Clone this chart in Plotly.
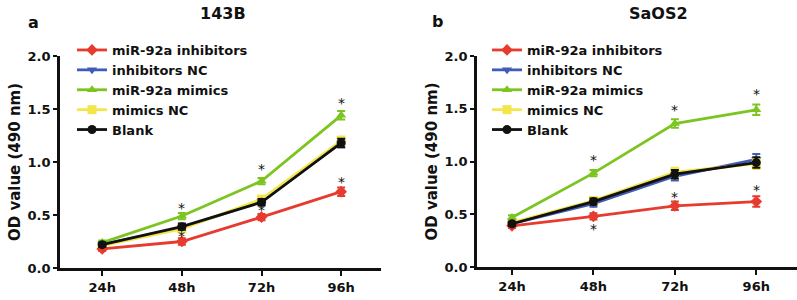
import plotly.graph_objects as go

times = ["24h", "48h", "72h", "96h"]
series_names = ["miR-92a inhibitors", "inhibitors NC", "miR-92a mimics", "mimics NC", "Blank"]
colors = ["#E63B2E", "#3F5DB8", "#7CC41F", "#F3E64A", "#111111"]
symbols = ["diamond", "triangle-down", "triangle-up", "square", "circle"]

# 143B panel
v143_inhib = [0.18, 0.25, 0.48, 0.72]
v143_inhNC = [0.22, 0.38, 0.63, 1.18]
v143_mimic = [0.24, 0.49, 0.82, 1.44]
v143_mimNC = [0.21, 0.37, 0.65, 1.20]
v143_blank = [0.22, 0.39, 0.62, 1.18]
e143 = [0.02, 0.03, 0.03, 0.04]

# SaOS2 panel
vsa_inhib = [0.39, 0.48, 0.58, 0.62]
vsa_inhNC = [0.41, 0.60, 0.86, 1.02]
vsa_mimic = [0.47, 0.89, 1.36, 1.49]
vsa_mimNC = [0.42, 0.63, 0.90, 0.98]
vsa_blank = [0.41, 0.62, 0.88, 0.99]
esa = [0.02, 0.03, 0.04, 0.05]

# significance star positions
star143_x = ["48h", "48h", "72h", "72h", "96h", "96h"]
star143_y = [0.57, 0.30, 0.93, 0.55, 1.56, 0.81]
starsa_x = ["48h", "48h", "72h", "72h", "96h", "96h"]
starsa_y = [1.01, 0.36, 1.49, 0.66, 1.64, 0.73]

W, H = 797, 300


def px(x):
    return x / W


def py(y):
    return 1 - y / H


panels = [
    ("x", "y", "legend", [v143_inhib, v143_inhNC, v143_mimic, v143_mimNC, v143_blank], e143),
    ("x2", "y2", "legend2", [vsa_inhib, vsa_inhNC, vsa_mimic, vsa_mimNC, vsa_blank], esa),
]

fig = go.Figure()
draw_order = [1, 3, 0, 2, 4]
for xa, ya, lg, vals, err in panels:
    traces = []
    for i in range(5):
        traces.append(go.Scatter(
            x=times, y=vals[i], name=series_names[i], mode="lines+markers",
            xaxis=xa, yaxis=ya, legend=lg,
            line=dict(color=colors[i], width=2.8),
            marker=dict(symbol=symbols[i], size=9, color=colors[i]),
            error_y=dict(type="data", array=err, color=colors[i], thickness=2, width=4),
            legendrank=i + 1,
        ))
    for i in draw_order:
        fig.add_trace(traces[i])

font_family = "DejaVu Sans, Verdana, sans-serif"
for xv, yv in zip(star143_x, star143_y):
    fig.add_annotation(x=xv, y=yv, xref="x", yref="y", text="*", showarrow=False,
                       xanchor="center", yanchor="middle",
                       font=dict(size=14, color="#111", family=font_family))
for xv, yv in zip(starsa_x, starsa_y):
    fig.add_annotation(x=xv, y=yv, xref="x2", yref="y2", text="*", showarrow=False,
                       xanchor="center", yanchor="middle",
                       font=dict(size=14, color="#111", family=font_family))

axis_common = dict(showline=True, linecolor="#111", linewidth=2.8, showgrid=False,
                   zeroline=False, ticks="outside", tickcolor="#111", tickwidth=2,
                   automargin=False,
                   tickfont=dict(family=font_family, size=13, color="#111", weight="bold"))

ytitle_font = dict(family=font_family, size=15, weight="bold", color="#111")
legend_font = dict(family=font_family, size=13, weight="bold", color="#111")

fig.update_layout(
    width=W, height=H, margin=dict(l=0, r=0, t=0, b=0),
    paper_bgcolor="white", plot_bgcolor="white",
    font=dict(family=font_family, color="#111"),
    xaxis=dict(domain=[px(60), px(381)], anchor="y", type="category",
               range=[-0.53, 3.5], ticklen=5, **axis_common),
    yaxis=dict(domain=[py(268), py(56)], anchor="x", range=[0, 2.0],
               dtick=0.5, tickformat=".1f", ticklen=4,
               title=dict(text="OD value (490 nm)", standoff=4, font=ytitle_font),
               **axis_common),
    xaxis2=dict(domain=[px(477), 1.0], anchor="y2", type="category",
                range=[-0.43, 3.5], ticklen=5, **axis_common),
    yaxis2=dict(domain=[py(267), py(56)], anchor="x2", range=[0, 2.0],
                dtick=0.5, tickformat=".1f", ticklen=4,
                title=dict(text="OD value (490 nm)", standoff=4, font=ytitle_font),
                **axis_common),
    legend=dict(x=px(72), y=py(35), xanchor="left", yanchor="top",
                bgcolor="rgba(0,0,0,0)", itemwidth=30, traceorder="normal",
                font=legend_font),
    legend2=dict(x=px(487), y=py(35), xanchor="left", yanchor="top",
                 bgcolor="rgba(0,0,0,0)", itemwidth=30, traceorder="normal",
                 font=legend_font),
    showlegend=True,
)

title_font = dict(family=font_family, size=16, weight="bold", color="#111")
fig.add_annotation(x=px(223), y=py(13), xref="paper", yref="paper", text="143B",
                   xanchor="center", yanchor="middle", showarrow=False, font=title_font)
fig.add_annotation(x=px(658), y=py(13), xref="paper", yref="paper", text="SaOS2",
                   xanchor="center", yanchor="middle", showarrow=False, font=title_font)
letter_font = dict(family=font_family, size=16, weight="bold", color="#111")
fig.add_annotation(x=px(33), y=py(22), xref="paper", yref="paper", text="a",
                   xanchor="center", yanchor="middle", showarrow=False, font=letter_font)
fig.add_annotation(x=px(437), y=py(21), xref="paper", yref="paper", text="b",
                   xanchor="center", yanchor="middle", showarrow=False, font=letter_font)

fig.write_html("out.html", config={"displayModeBar": False},
               post_script="document.body.style.margin='0';document.body.style.overflow='hidden';")
